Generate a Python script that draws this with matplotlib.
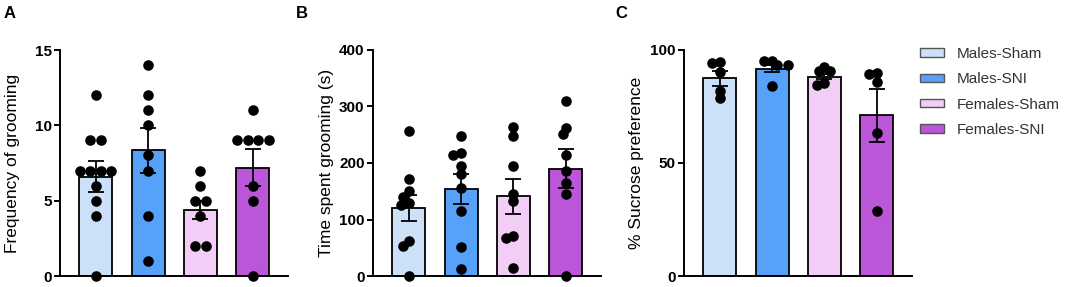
import numpy as np
import matplotlib.pyplot as plt
from matplotlib.patches import Patch

plt.rcParams['font.family'] = ['Liberation Sans', 'DejaVu Sans']

groups = ['Males-Sham', 'Males-SNI', 'Females-Sham', 'Females-SNI']
colors = ['#cce0f8', '#56a2fa', '#f2cdf6', '#bb56d8']

# A: frequency of grooming
freq_pts = [[12, 9, 9, 7, 7, 7, 7, 6, 5, 4, 0],
            [14, 12, 11, 10, 8, 7, 4, 1],
            [7, 6, 5, 5, 4, 2, 2],
            [11, 9, 9, 9, 9, 6, 5, 0]]
freq_mean = [6.6, 8.35, 4.4, 7.2]
freq_sem = [1.0, 1.5, 0.6, 1.25]

# B: time spent grooming (s)
time_pts = [[257, 172, 150, 140, 130, 125, 62, 53, 0],
            [247, 218, 215, 195, 180, 155, 115, 52, 12],
            [263, 248, 195, 146, 133, 71, 68, 14],
            [310, 262, 251, 215, 186, 165, 146, 0]]
time_mean = [121, 154, 141, 190]
time_sem = [23, 26, 31, 34]

# C: sucrose preference
suc_pts = [[94.8, 94.1, 90.4, 82, 78.6],
           [95.3, 95, 93.4, 93.4, 84],
           [92.6, 90.9, 90.9, 85.3, 84.5],
           [89.7, 89.4, 86, 63.4, 28.8]]
suc_mean = [87.5, 91.8, 88.2, 71.2]
suc_sem = [3.4, 1.4, 1.2, 11.7]

W, H = 1084, 287
fig = plt.figure(figsize=(W / 100, H / 100), dpi=100)

def swarm_offsets(vals, ppu, d):
    # beeswarm in pixel space: equal values form a centred row,
    # each row is shifted sideways until it clears the dots already placed
    offs = np.zeros(len(vals))
    placed = []
    shifts = sorted(np.arange(-24, 25) * d / 4.0, key=abs)
    gap = 0.6 * d  # dots may overlap a little
    for v in sorted(set(vals), reverse=True):
        idx = [i for i, u in enumerate(vals) if u == v]
        k = len(idx)
        base = (np.arange(k) - (k - 1) / 2.0) * d
        y = v * ppu
        for sh in shifts:
            row = base + sh
            if all((ox - px) ** 2 + (y - py) ** 2 >= gap ** 2
                   for ox in row for px, py in placed):
                break
        for i, ox in zip(idx, row):
            offs[i] = ox
            placed.append((ox, y))
    return offs

def panel(left_px, pts, means, sems, ymax, ticks, ylabel, letter, letter_x):
    ax_w, ax_h = 228, 226
    ax = fig.add_axes([left_px / W, 11 / H, ax_w / W, ax_h / H])
    x = np.arange(4)
    xlim = (-0.68, 3.67)
    ax.bar(x, means, width=0.63, color=colors, edgecolor='black', linewidth=1.3, zorder=2)
    ax.errorbar(x, means, yerr=sems, fmt='none', ecolor='black', elinewidth=1.3,
                capsize=6, capthick=1.3, zorder=4)
    ppu = ax_h / ymax
    xpx = ax_w / (xlim[1] - xlim[0])
    d = 10.5
    for i, vals in enumerate(pts):
        vals = np.array(vals, dtype=float)
        offs = swarm_offsets(list(vals), ppu, d) / xpx
        ax.scatter(x[i] + offs, vals, s=58, color='black', zorder=3, clip_on=False, linewidths=0)
    ax.set_xlim(*xlim)
    ax.set_ylim(0, ymax)
    ax.set_yticks(ticks)
    ax.set_xticks([])
    for s in ['top', 'right']:
        ax.spines[s].set_visible(False)
    for s in ['left', 'bottom']:
        ax.spines[s].set_linewidth(1.4)
    ax.tick_params(axis='y', direction='out', length=4, width=1.4, labelsize=11, pad=2)
    for lab in ax.get_yticklabels():
        lab.set_fontweight('bold')
    ax.set_ylabel(ylabel, fontsize=12.5, va='center')
    ax.yaxis.set_label_coords(-47 / ax_w, 0.5)
    fig.text(letter_x / W, 1 - 14 / H, letter, fontsize=12, fontweight='bold', va='center', ha='left')
    return ax

panel(60, freq_pts, freq_mean, freq_sem, 15, [0, 5, 10, 15], 'Frequency of grooming', 'A', 4)
panel(373, time_pts, time_mean, time_sem, 400, [0, 100, 200, 300, 400], 'Time spent grooming (s)', 'B', 296)
panel(684, suc_pts, suc_mean, suc_sem, 100, [0, 50, 100], '% Sucrose preference', 'C', 615)

handles = [Patch(facecolor=c, edgecolor='#555555', linewidth=1) for c in colors]
fig.legend(handles, groups, loc='upper left', bbox_to_anchor=(920 / W, 1 - 47 / H),
           frameon=False, fontsize=11, handlelength=1.55, handleheight=0.45,
           handletextpad=0.85, labelspacing=0.74, borderpad=0, borderaxespad=0,
           labelcolor='#333333')

fig.savefig('out.png', dpi=100)
